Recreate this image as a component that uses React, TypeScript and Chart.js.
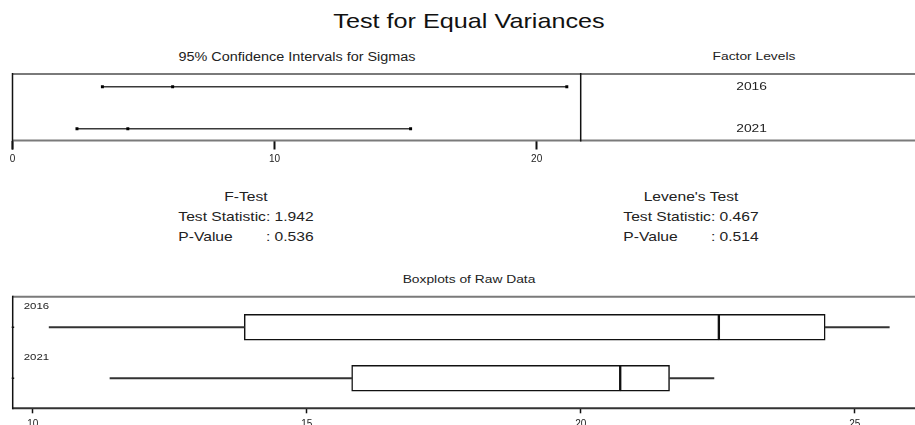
import React, { useEffect, useRef } from "react";
import { Chart, registerables } from "chart.js";

Chart.register(...registerables);

const FONT = "'Liberation Sans', Arial, Helvetica, sans-serif";
const STRETCH = 1.2;

const TITLE = "Test for Equal Variances";
const CI_TITLE = "95% Confidence Intervals for Sigmas";
const FACTOR_TITLE = "Factor Levels";
const BOX_TITLE = "Boxplots of Raw Data";

const FACTOR_LEVELS = ["2016", "2021"];

// 95% Bonferroni confidence intervals for sigma
const CI_LOWER = [3.43, 2.46];
const CI_SIGMA = [6.11, 4.4];
const CI_UPPER = [21.15, 15.19];
const CI_AXIS_TICKS = [0, 10, 20];
const CI_AXIS_MIN = 0;
const CI_AXIS_MAX = 36.0;
const CI_PANEL_DIVIDER = 21.68;
const FACTOR_LABEL_X = 28.2;

// Tests
const F_TEST_LABELS = ["F-Test", "Test Statistic: 1.942", "P-Value", ": 0.536"];
const LEVENE_LABELS = ["Levene's Test", "Test Statistic: 0.467", "P-Value", ": 0.514"];

// Boxplots of raw data
const BOX_MIN = [10.3, 11.41];
const BOX_Q1 = [13.86, 15.82];
const BOX_MEDIAN = [22.52, 20.72];
const BOX_Q3 = [24.46, 21.62];
const BOX_MAX = [25.63, 22.43];
const BOX_AXIS_TICKS = [10, 15, 20, 25];
const BOX_AXIS_MIN = 9.635;
const BOX_AXIS_MAX = 26.92;

function stretchedText(ctx: CanvasRenderingContext2D, text: string, x: number, y: number, align: CanvasTextAlign) {
  ctx.save();
  ctx.translate(x, y);
  ctx.scale(STRETCH, 1);
  ctx.textAlign = align;
  ctx.textBaseline = "middle";
  ctx.fillText(text, 0, 0);
  ctx.restore();
}

const ciFramePlugin = {
  id: "ciFrame",
  afterDraw(chart: any) {
    const { ctx, chartArea } = chart;
    const { left, right, top, bottom } = chartArea;
    const xs = chart.scales.x;
    const ys = chart.scales.y;
    ctx.save();
    ctx.strokeStyle = "#7a7a7a";
    ctx.lineWidth = 2;
    ctx.beginPath();
    ctx.moveTo(left, top);
    ctx.lineTo(right, top);
    ctx.moveTo(left, bottom);
    ctx.lineTo(right, bottom);
    ctx.stroke();
    ctx.strokeStyle = "#111";
    ctx.lineWidth = 1.5;
    ctx.beginPath();
    ctx.moveTo(left, top - 1);
    ctx.lineTo(left, bottom + 9);
    const dx = xs.getPixelForValue(CI_PANEL_DIVIDER);
    ctx.moveTo(dx, top - 1);
    ctx.lineTo(dx, bottom + 1);
    ctx.stroke();
    ctx.fillStyle = "#222";
    ctx.font = `11.5px ${FONT}`;
    const lx = xs.getPixelForValue(FACTOR_LABEL_X);
    FACTOR_LEVELS.forEach((lvl, i) => {
      stretchedText(ctx, lvl, lx, ys.getPixelForValue(i), "center");
    });
    ctx.restore();
  },
};

const boxFramePlugin = {
  id: "boxFrame",
  afterDraw(chart: any) {
    const { ctx, chartArea } = chart;
    const { left, right, top, bottom } = chartArea;
    const ys = chart.scales.y;
    ctx.save();
    ctx.strokeStyle = "#7a7a7a";
    ctx.lineWidth = 2;
    ctx.beginPath();
    ctx.moveTo(left, top);
    ctx.lineTo(right, top);
    ctx.stroke();
    ctx.strokeStyle = "#333";
    ctx.beginPath();
    ctx.moveTo(left, bottom);
    ctx.lineTo(right, bottom);
    ctx.stroke();
    ctx.strokeStyle = "#111";
    ctx.lineWidth = 1.5;
    ctx.beginPath();
    ctx.moveTo(left, top - 1);
    ctx.lineTo(left, bottom + 1);
    ctx.stroke();
    // small row ticks on the left border
    FACTOR_LEVELS.forEach((_, i) => {
      const py = ys.getPixelForValue(i);
      ctx.beginPath();
      ctx.moveTo(left - 1, py);
      ctx.lineTo(left + 1.5, py);
      ctx.stroke();
    });
    ctx.fillStyle = "#222";
    ctx.font = `9.5px ${FONT}`;
    FACTOR_LEVELS.forEach((lvl, i) => {
      stretchedText(ctx, lvl, left + 11, ys.getPixelForValue(i) - 21, "left");
    });
    ctx.restore();
  },
};

function CIChart() {
  const ref = useRef<HTMLCanvasElement | null>(null);
  useEffect(() => {
    if (!ref.current) return;
    const chart = new Chart(ref.current, {
      type: "line",
      data: {
        datasets: FACTOR_LEVELS.map((lvl, i) => ({
          label: lvl,
          data: [CI_LOWER[i], CI_SIGMA[i], CI_UPPER[i]].map((x) => ({ x, y: i })),
          borderColor: "#3a3a3a",
          borderWidth: 1.6,
          pointRadius: 2.1,
          pointStyle: "rect",
          pointBackgroundColor: "#000",
          pointBorderColor: "#000",
          pointBorderWidth: 0,
          showLine: true,
        })),
      },
      options: {
        animation: false,
        responsive: false,
        layout: { padding: { left: 12.5, top: 10, right: 0, bottom: 0 } },
        plugins: { legend: { display: false }, tooltip: { enabled: false } },
        scales: {
          x: {
            type: "linear",
            min: CI_AXIS_MIN,
            max: CI_AXIS_MAX,
            afterBuildTicks: (s: any) => {
              s.ticks = CI_AXIS_TICKS.map((v) => ({ value: v }));
            },
            afterFit: (s: any) => {
              s.height = 27.5;
            },
            grid: { drawOnChartArea: false, tickLength: 9, tickWidth: 2, tickColor: "#111" },
            border: { display: false },
            ticks: { font: { size: 10, family: FONT }, color: "#222", padding: 4, maxRotation: 0, autoSkip: false },
          },
          y: { type: "linear", display: false, offset: false, min: -0.302, max: 1.281, reverse: true },
        },
      } as any,
      plugins: [ciFramePlugin],
    });
    return () => chart.destroy();
  }, []);
  return <canvas ref={ref} width={960} height={104} style={{ position: "absolute", left: 0, top: 64 }} />;
}

function BoxChart() {
  const ref = useRef<HTMLCanvasElement | null>(null);
  useEffect(() => {
    if (!ref.current) return;
    const rows = FACTOR_LEVELS.map((_, i) => i);
    const whisker = { backgroundColor: "#333", borderWidth: 0, barThickness: 1.5, grouped: false };
    const box = {
      backgroundColor: "#ffffff",
      borderColor: "#111",
      borderWidth: 1.5,
      borderSkipped: false,
      barThickness: 26,
      grouped: false,
    };
    const chart = new Chart(ref.current, {
      type: "bar",
      data: {
        datasets: [
          { label: "lower whisker", data: rows.map((i) => ({ y: i, x: [BOX_MIN[i], BOX_Q1[i]] })), ...whisker },
          { label: "upper whisker", data: rows.map((i) => ({ y: i, x: [BOX_Q3[i], BOX_MAX[i]] })), ...whisker },
          { label: "Q1-median", data: rows.map((i) => ({ y: i, x: [BOX_Q1[i], BOX_MEDIAN[i]] })), ...box },
          { label: "median-Q3", data: rows.map((i) => ({ y: i, x: [BOX_MEDIAN[i], BOX_Q3[i]] })), ...box },
        ],
      } as any,
      options: {
        animation: false,
        responsive: false,
        indexAxis: "y",
        layout: { padding: { left: 12.7, top: 26.7, right: 0, bottom: 0 } },
        plugins: { legend: { display: false }, tooltip: { enabled: false } },
        scales: {
          x: {
            type: "linear",
            offset: false,
            min: BOX_AXIS_MIN,
            max: BOX_AXIS_MAX,
            afterBuildTicks: (s: any) => {
              s.ticks = BOX_AXIS_TICKS.map((v) => ({ value: v }));
            },
            afterFit: (s: any) => {
              s.height = 31.7;
            },
            grid: { drawOnChartArea: false, tickLength: 5, tickWidth: 1.5, tickColor: "#111" },
            border: { display: false },
            ticks: { font: { size: 10, family: FONT }, color: "#222", padding: 5, maxRotation: 0, autoSkip: false },
          },
          y: { type: "linear", display: false, offset: false, min: -0.6, max: 1.59, reverse: true },
        },
      } as any,
      plugins: [boxFramePlugin],
    });
    return () => chart.destroy();
  }, []);
  return <canvas ref={ref} width={960} height={170} style={{ position: "absolute", left: 0, top: 270 }} />;
}

function Txt(props: { x: number; y: number; size: number; text: string; color?: string }) {
  const { x, y, size, text, color } = props;
  return (
    <div
      style={{
        position: "absolute",
        left: x,
        top: y - 0.49 * size,
        fontSize: size,
        lineHeight: `${size}px`,
        fontFamily: FONT,
        color: color || "#222",
        whiteSpace: "nowrap",
        transform: `translateX(-50%) scaleX(${STRETCH})`,
      }}
    >
      {text}
    </div>
  );
}

function StatBlock(props: { cx: number; labels: string[] }) {
  const { cx, labels } = props;
  return (
    <div
      style={{
        position: "absolute",
        left: cx,
        top: 186.9,
        fontSize: 13,
        lineHeight: "20.3px",
        fontFamily: FONT,
        color: "#222",
        whiteSpace: "nowrap",
        transform: `translateX(-50%) scaleX(${STRETCH})`,
      }}
    >
      <div style={{ textAlign: "center" }}>{labels[0]}</div>
      <div>{labels[1]}</div>
      <div style={{ display: "flex", justifyContent: "space-between" }}>
        <span>{labels[2]}</span>
        <span>{labels[3]}</span>
      </div>
    </div>
  );
}

export default function App() {
  return (
    <div
      style={{
        position: "fixed",
        left: 0,
        top: 0,
        width: 915,
        height: 425,
        overflow: "hidden",
        background: "#ffffff",
      }}
    >
      <Txt x={469} y={20} size={21} text={TITLE} color="#111" />
      <Txt x={297} y={57} size={12} text={CI_TITLE} />
      <Txt x={754} y={57} size={11.5} text={FACTOR_TITLE} />
      <CIChart />
      <StatBlock cx={246} labels={F_TEST_LABELS} />
      <StatBlock cx={691} labels={LEVENE_LABELS} />
      <Txt x={468.5} y={280} size={11.5} text={BOX_TITLE} />
      <BoxChart />
    </div>
  );
}
